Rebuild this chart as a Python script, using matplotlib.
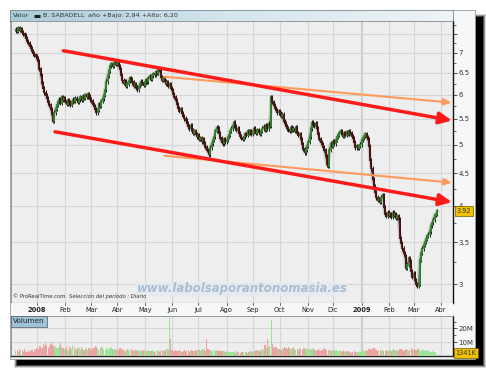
import numpy as np
import pandas as pd
import matplotlib
matplotlib.use('Agg')
import matplotlib.pyplot as plt
from matplotlib.patches import Rectangle
from matplotlib.ticker import FixedLocator, FixedFormatter, NullFormatter
from matplotlib.colors import LinearSegmentedColormap

W, H = 486, 370

# ---------------- data ----------------
dates = pd.bdate_range('2007-12-07', '2009-03-27')
first_open = 7.58
closes = [
    7.62, 7.58, 7.66, 7.60, 7.63, 7.55, 7.50, 7.45, 7.38, 7.30,
    7.25, 7.18, 7.12, 7.05, 6.98, 6.94, 6.90, 6.85, 6.78, 6.60,
    6.45, 6.25, 6.15, 6.05, 6.00, 5.92, 5.85, 5.78, 5.70, 5.58,
    5.45, 5.62, 5.70, 5.78, 5.85, 5.90, 5.82, 5.95, 5.88, 5.93,
    5.86, 5.80, 5.88, 5.84, 5.78, 5.85, 5.90, 5.86, 5.92, 5.88,
    5.84, 5.90, 5.95, 5.88, 5.96, 5.93, 6.00, 5.96, 6.02, 5.98,
    5.90, 5.86, 5.80, 5.75, 5.70, 5.62, 5.68, 5.80, 5.76, 5.86,
    5.92, 6.00, 6.12, 6.30, 6.42, 6.55, 6.68, 6.72, 6.66, 6.74,
    6.78, 6.72, 6.76, 6.66, 6.58, 6.45, 6.32, 6.26, 6.30, 6.20,
    6.24, 6.32, 6.38, 6.35, 6.28, 6.20, 6.24, 6.16, 6.12, 6.20,
    6.24, 6.30, 6.26, 6.22, 6.28, 6.34, 6.30, 6.38, 6.42, 6.36,
    6.44, 6.48, 6.46, 6.52, 6.50, 6.60, 6.55, 6.40, 6.33, 6.38,
    6.30, 6.25, 6.28, 6.20, 6.24, 6.15, 6.10, 6.02, 5.95, 5.88,
    5.80, 5.72, 5.66, 5.70, 5.60, 5.55, 5.50, 5.46, 5.40, 5.34,
    5.30, 5.36, 5.28, 5.22, 5.25, 5.20, 5.15, 5.18, 5.10, 5.12,
    5.06, 5.10, 5.02, 4.96, 4.90, 4.88, 4.82, 4.95, 5.02, 5.08,
    5.15, 5.25, 5.32, 5.30, 5.22, 5.12, 5.05, 5.02, 5.10, 5.06,
    5.08, 5.14, 5.18, 5.25, 5.30, 5.36, 5.42, 5.35, 5.28, 5.30,
    5.22, 5.16, 5.12, 5.10, 5.15, 5.20, 5.18, 5.25, 5.22, 5.26,
    5.20, 5.24, 5.30, 5.26, 5.22, 5.28, 5.24, 5.20, 5.26, 5.30,
    5.34, 5.28, 5.36, 5.30, 5.40, 5.35, 5.95, 5.85, 5.78, 5.72,
    5.68, 5.62, 5.66, 5.60, 5.55, 5.58, 5.45, 5.40, 5.35, 5.30,
    5.28, 5.25, 5.32, 5.28, 5.30, 5.26, 5.32, 5.22, 5.18, 5.20,
    5.10, 5.00, 4.92, 4.86, 4.90, 4.98, 5.05, 5.15, 5.30, 5.42,
    5.38, 5.35, 5.40, 5.30, 5.20, 5.10, 5.05, 5.00, 4.95, 4.90,
    4.80, 4.65, 4.62, 4.90, 5.02, 4.98, 5.06, 5.02, 5.08, 5.14,
    5.18, 5.22, 5.26, 5.20, 5.16, 5.22, 5.18, 5.24, 5.20, 5.25,
    5.22, 5.16, 5.12, 5.05, 4.95, 4.98, 4.94, 4.98, 5.00, 5.08,
    5.12, 5.16, 5.20, 5.14, 5.10, 4.98, 4.72, 4.58, 4.40, 4.30,
    4.20, 4.12, 4.08, 4.10, 4.05, 4.12, 4.16, 3.98, 3.88, 3.85,
    3.90, 3.86, 3.88, 3.84, 3.90, 3.86, 3.88, 3.82, 3.85, 3.80,
    3.55, 3.48, 3.42, 3.36, 3.32, 3.18, 3.22, 3.30, 3.26, 3.15,
    3.08, 3.12, 3.04, 3.00, 2.98, 3.00, 3.28, 3.36, 3.42, 3.46,
    3.50, 3.54, 3.58, 3.60, 3.64, 3.72, 3.76, 3.80, 3.86, 3.88,
    3.92,
]

vol_dec07 = [3.4, 4.1, 2.9, 4.8, 3.6, 4.3, 3.0, 5.1, 3.9, 3.2, 4.6, 2.8, 3.5, 4.4, 3.1, 5.4, 4.0]
vol_jan08 = [5.5, 4.8, 6.9, 7.6, 5.8, 8.4, 6.9, 9.6, 8.1, 6.0, 7.2, 8.9, 10.4, 7.7, 6.5, 7.3, 5.6, 6.1, 7.9, 9.5, 6.8, 5.9, 5.3]
vol_feb08 = [5.0, 6.4, 4.7, 7.1, 5.8, 5.2, 7.8, 6.3, 4.9, 4.5, 6.0, 5.5, 4.3, 6.8, 5.3, 4.6, 5.8, 4.9, 4.4, 5.6, 5.1]
vol_mar08 = [4.4, 6.0, 5.5, 7.1, 6.5, 4.9, 4.2, 5.7, 6.3, 6.8, 5.0, 4.6, 5.9, 5.3, 4.1, 5.6, 6.2, 4.8, 4.4, 5.1, 4.7]
vol_apr08 = [5.4, 4.1, 5.8, 5.2, 4.5, 4.9, 3.8, 4.4, 5.1, 4.2, 3.7, 4.8, 4.3, 3.6, 4.0, 4.6, 3.5, 3.9, 4.7, 3.8, 4.2, 3.6]
vol_may08 = [4.1, 3.4, 3.9, 4.5, 3.3, 3.8, 4.3, 3.5, 3.2, 3.9, 3.6, 4.2, 3.1, 3.7, 4.0, 3.4, 3.8, 4.4, 5.0, 4.6, 28.0, 12.0]
vol_jun08 = [4.2, 3.6, 3.9, 4.4, 3.3, 3.8, 4.1, 3.5, 3.0, 3.7, 4.3, 3.4, 3.6, 4.0, 3.2, 3.8, 4.5, 3.9, 3.5, 4.2, 3.7]
vol_jul08 = [4.0, 4.6, 3.8, 4.3, 5.0, 4.4, 3.9, 12.0, 5.2, 4.6, 3.8, 4.2, 3.6, 4.4, 3.9, 3.5, 4.1, 3.7, 3.3, 3.9, 3.4, 3.8, 3.2]
vol_aug08 = [3.0, 3.4, 2.8, 3.2, 2.6, 3.1, 2.9, 2.5, 3.3, 2.7, 3.0, 2.4, 2.8, 3.2, 2.6, 2.9, 3.1, 2.5, 2.8, 3.3, 3.0]
vol_sep08 = [3.5, 3.1, 3.8, 4.2, 3.6, 4.5, 3.9, 4.8, 5.2, 4.6, 8.0, 5.5, 12.0, 6.4, 7.0, 26.0, 8.5, 6.8, 5.6, 6.2, 5.0, 4.8]
vol_oct08 = [5.2, 4.6, 6.0, 5.4, 6.8, 5.9, 5.1, 6.3, 5.5, 4.8, 5.7, 6.5, 5.0, 4.4, 5.3, 4.7, 5.9, 5.2, 4.5, 6.1, 5.6, 4.9, 5.4]
vol_nov08 = [4.6, 5.2, 4.1, 4.8, 5.5, 4.3, 3.9, 4.6, 5.0, 4.2, 3.8, 4.5, 5.3, 6.0, 5.1, 4.4, 4.0, 4.7, 3.6, 4.2]
vol_dec08 = [3.9, 4.5, 3.5, 4.1, 3.3, 3.8, 4.4, 3.2, 3.7, 3.0, 3.5, 2.8, 3.3, 2.6, 3.1, 2.5, 2.9, 3.4, 2.7, 3.2, 2.4, 2.8, 3.0]
vol_jan09 = [3.6, 4.1, 3.4, 3.9, 4.5, 3.7, 5.2, 4.8, 4.2, 5.6, 6.1, 5.0, 4.4, 3.8, 4.6, 4.1, 3.5, 4.3, 3.9, 3.3, 4.0, 3.6]
vol_feb09 = [3.8, 4.4, 3.5, 4.1, 5.0, 4.6, 3.9, 4.3, 3.6, 4.8, 5.3, 4.5, 3.8, 4.2, 5.1, 4.7, 3.9, 4.4, 5.6, 5.0]
vol_mar09 = [4.5, 5.2, 4.0, 4.8, 5.5, 4.3, 3.9, 5.0, 4.6, 4.1, 3.7, 4.4, 3.5, 3.9, 3.2, 3.6, 3.0, 2.7, 3.1, 1.341]
volumes = (vol_dec07 + vol_jan08 + vol_feb08 + vol_mar08 + vol_apr08 + vol_may08 +
           vol_jun08 + vol_jul08 + vol_aug08 + vol_sep08 + vol_oct08 + vol_nov08 +
           vol_dec08 + vol_jan09 + vol_feb09 + vol_mar09)

month_labels = ['2008', 'Feb', 'Mar', 'Abr', 'May', 'Jun', 'Jul', 'Ago', 'Sep',
                'Oct', 'Nov', 'Dic', '2009', 'Feb', 'Mar', 'Abr']
price_ticks = [3, 3.5, 4, 4.5, 5, 5.5, 6, 6.5, 7, 7.5]
price_tick_labels = ['3', '3.5', '4', '4.5', '5', '5.5', '6', '6.5', '7', '']
vol_ticks = [10, 20]
vol_tick_labels = ['10M', '20M']

# trend lines (start idx, start price, end idx, end price)
red_upper = (38.3, 7.05, 352.0, 5.46)
red_lower = (31.6, 5.24, 352.0, 4.05)
orange_upper = (119.8, 6.41, 351.7, 5.83)
orange_lower = (119.8, 4.80, 352.0, 4.35)

last_price_label = '3.92'
last_volume_label = '1341K'
header_title = 'B. SABADELL'
header_stats = 'año +Bajo: 2,94 +Alto: 6,20'

# ---------------- derived ----------------
n = len(closes)
assert n == len(dates) == len(volumes)
x = np.arange(n)
closes_a = np.array(closes)
opens_a = np.array([first_open] + closes[:-1])
up = closes_a >= opens_a

all_days = pd.bdate_range('2007-12-07', '2009-04-30')
month_idx = [i for i in range(1, len(all_days))
             if all_days[i].month != all_days[i - 1].month]

XMIN, XMAX = -3.95, 352.8
YMIN, YMAX = 2.80, 7.86


def rect(l, t, r, b):
    return [l / W, 1 - b / H, (r - l) / W, (b - t) / H]


fig = plt.figure(figsize=(W / 100, H / 100), dpi=100)
fig.patch.set_facecolor('white')

# background / frame / shadow
bg = fig.add_axes([0, 0, 1, 1])
bg.set_xlim(0, W)
bg.set_ylim(H, 0)
bg.axis('off')
for k, a in enumerate([0.15, 0.3, 0.5]):
    d = 2 - k
    bg.add_patch(Rectangle((16 - d, 16 - d), 468 + 2 * d, 350 + 2 * d,
                           facecolor='black', alpha=a, lw=0))
bg.add_patch(Rectangle((17, 17), 466, 348, facecolor='black', lw=0))
bg.add_patch(Rectangle((9.5, 9.5), 465, 349.5, facecolor='#f6f7f9',
                       edgecolor='#9a9a9a', lw=0.6))

# header band
axh = fig.add_axes(rect(10, 10, 453, 21))
grad = np.linspace(0, 1, 256).reshape(1, -1)
cmap_h = LinearSegmentedColormap.from_list('h', ['#a9cbd9', '#d5e6ee', '#eef3f6'])
axh.imshow(grad, aspect='auto', cmap=cmap_h, extent=[0, 1, 0, 1])
axh.set_xlim(0, 1)
axh.set_ylim(0, 1)
axh.set_xticks([])
axh.set_yticks([])
for s in axh.spines.values():
    s.set_color('#7a8a92')
    s.set_linewidth(0.6)
axh.spines['bottom'].set_color('#404040')
axh.text(3 / 443, 0.5, 'Valor', fontsize=4.6, color='#333333', va='center', ha='left')
axh.plot([24 / 443, 30 / 443], [0.5, 0.5], color='#222222', lw=2.2, solid_capstyle='butt')
axh.text(33 / 443, 0.5, header_title, fontsize=4.6, color='#333333', va='center', ha='left')
axh.text(78 / 443, 0.5, header_stats, fontsize=4.6, color='#333333', va='center', ha='left')

# main price axes
ax = fig.add_axes(rect(11, 21, 453, 303))
ax.set_facecolor('#eeeeee')
ax.set_yscale('log')
ax.set_xlim(XMIN, XMAX)
ax.set_ylim(YMIN, YMAX)
ax.yaxis.tick_right()
ax.yaxis.set_major_locator(FixedLocator(price_ticks))
ax.yaxis.set_major_formatter(FixedFormatter(price_tick_labels))
minor = [v for v in np.arange(2.75, 8.0, 0.25) if v not in price_ticks]
ax.yaxis.set_minor_locator(FixedLocator(minor))
ax.yaxis.set_minor_formatter(NullFormatter())
ax.tick_params(axis='y', which='major', direction='out', length=3, width=0.6,
               labelsize=5, pad=1, colors='#333333')
ax.tick_params(axis='y', which='minor', direction='out', length=2, width=0.5,
               colors='#333333')
ax.set_xticks(month_idx[:len(month_labels)])
ax.tick_params(axis='x', length=0, labelbottom=False)
ax.grid(True, which='major', color='#d6d6d6', lw=0.8)
ax.axvline(month_idx[12], color='#cbcbcb', lw=1.6, zorder=0.5)
for s in ['left', 'top']:
    ax.spines[s].set_color('#8a8a8a')
    ax.spines[s].set_linewidth(0.6)
ax.spines['right'].set_color('#111111')
ax.spines['right'].set_linewidth(1.0)
ax.spines['bottom'].set_color('#333333')
ax.spines['bottom'].set_linewidth(0.8)

# candles
lo = np.minimum(opens_a, closes_a) * 0.997
hi = np.maximum(opens_a, closes_a) * 1.003
ax.plot(x, closes_a, color='#8c8c8c', lw=2.6, alpha=0.35, zorder=2)
ax.vlines(x, lo * 0.995, hi * 1.005, colors='#1a1a1a', lw=0.7, zorder=3)
cols = np.where(up, '#2e8b2e', '#4a1010')
ax.vlines(x, lo, hi, colors=cols, lw=1.25, zorder=4)
ax.plot(x, closes_a, color='#222222', lw=0.55, alpha=0.75, zorder=3)

# trend lines with arrows
def trend(line, color, lw, hl, hw):
    x0, y0, x1, y1 = line
    ax.annotate('', xy=(x1, y1), xytext=(x0, y0), annotation_clip=False,
                arrowprops=dict(arrowstyle=f'-|>,head_length={hl},head_width={hw}',
                                color=color, lw=lw, shrinkA=0, shrinkB=0),
                zorder=6)

trend(orange_upper, '#ff9a5c', 1.5, 0.45, 0.2)
trend(orange_lower, '#ff9a5c', 1.5, 0.45, 0.2)
trend(red_upper, '#ff1a1a', 2.5, 0.75, 0.35)
trend(red_lower, '#ff1a1a', 2.5, 0.75, 0.35)

# watermark + credits
ax.text(0.523, 0.050, 'www.labolsaporantonomasia.es', transform=ax.transAxes,
        fontsize=8.5, style='italic', fontweight='bold', color='#a9bed3',
        ha='center', va='center', zorder=7,
        bbox=dict(facecolor='#e6ebf0', edgecolor='none', pad=0.6, alpha=0.8))
ax.text(2 / 442, 0.013, '© ProRealTime.com', transform=ax.transAxes,
        fontsize=3.8, color='#333333', ha='left', va='bottom', zorder=7)
ax.text(58 / 442, 0.013, 'Selección del período : Diario', transform=ax.transAxes,
        fontsize=3.8, style='italic', color='#333333', ha='left', va='bottom', zorder=7)

# last price tag
ax.annotate(last_price_label, xy=(1.0, 3.92), xycoords=ax.get_yaxis_transform(),
            xytext=(2.5, 0), textcoords='offset points', fontsize=4.8,
            ha='left', va='center', color='#333333', annotation_clip=False,
            bbox=dict(boxstyle='square,pad=0.25', facecolor='#f2c200',
                      edgecolor='#6b5a00', lw=0.5), zorder=8)

# date band
axd = fig.add_axes(rect(11, 303, 453, 316))
axd.set_facecolor('#f6f7f9')
axd.set_xlim(XMIN, XMAX)
axd.set_ylim(0, 1)
axd.set_yticks([])
axd.set_xticks([])
for s in axd.spines.values():
    s.set_visible(False)
for i, lab in zip(month_idx, month_labels):
    bold = lab in ('2008', '2009')
    axd.text(i, 0.45, lab, fontsize=4.8, ha='center', va='center',
             color='#222222', fontweight='bold' if bold else 'normal')
    axd.plot([i, i], [0.85, 1.0], color='#555555', lw=0.6)

# volume axes
axv = fig.add_axes(rect(11, 316, 453, 356))
axv.set_facecolor('#eeeeee')
axv.set_xlim(XMIN, XMAX)
axv.set_ylim(0, 29)
vcols = np.where(up, '#9fe29a', '#eca3a3')
axv.bar(x, volumes, width=0.95, color=vcols, lw=0, zorder=3)
axv.yaxis.tick_right()
axv.set_yticks(vol_ticks)
axv.set_yticklabels(vol_tick_labels)
axv.yaxis.set_minor_locator(FixedLocator([5, 15, 25]))
axv.tick_params(axis='y', which='major', direction='out', length=3, width=0.6,
                labelsize=5, pad=1, colors='#333333')
axv.tick_params(axis='y', which='minor', direction='out', length=2, width=0.5,
                colors='#333333')
axv.set_xticks(month_idx[:len(month_labels)])
axv.tick_params(axis='x', length=0, labelbottom=False)
axv.grid(True, which='major', color='#d6d6d6', lw=0.8, zorder=0)
axv.axvline(month_idx[12], color='#cbcbcb', lw=1.6, zorder=0.5)
for s in ['left', 'top']:
    axv.spines[s].set_color('#8a8a8a')
    axv.spines[s].set_linewidth(0.6)
axv.spines['right'].set_color('#111111')
axv.spines['right'].set_linewidth(1.0)
axv.spines['bottom'].set_color('#222222')
axv.spines['bottom'].set_linewidth(1.0)
axv.text(0.005, 0.94, 'Volumen', transform=axv.transAxes, fontsize=5.2,
         color='#222222', ha='left', va='top', zorder=8,
         bbox=dict(boxstyle='square,pad=0.35', facecolor='#9cc4d8',
                   edgecolor='#555555', lw=0.5))
axv.annotate(last_volume_label, xy=(1.0, 2.2), xycoords=axv.get_yaxis_transform(),
             xytext=(2.0, 0), textcoords='offset points', fontsize=4.8,
             ha='left', va='center', color='#333333', annotation_clip=False,
             bbox=dict(boxstyle='square,pad=0.25', facecolor='#f2c200',
                       edgecolor='#6b5a00', lw=0.5), zorder=8)

fig.savefig('out.png', dpi=100, facecolor='white')
